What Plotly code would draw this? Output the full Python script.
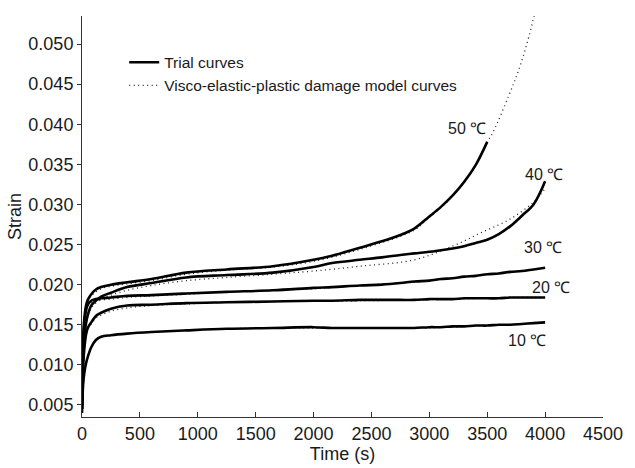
import plotly.graph_objects as go

# ---------------- data ----------------
trial_time = [0, 5, 10, 20, 35, 50, 80, 120, 165, 250, 390, 600, 900, 1250, 1650,
              2000, 2160, 2400, 2590, 2750, 2870, 3000, 3100, 3200, 3300, 3400, 3500,
              3600, 3700, 3800, 3900, 4000]

trial_10 = [0.0040, 0.0062, 0.0076, 0.0090, 0.0102, 0.0110, 0.0122, 0.0131, 0.0135, 0.0137, 0.0139,
            0.0141, 0.0143, 0.0145, 0.0146, 0.0147, 0.0146, 0.0146, 0.0146, 0.0146, 0.0146,
            0.0147, 0.0147, 0.0148, 0.0148, 0.0149, 0.0149, 0.0150, 0.0150, 0.0151, 0.0152, 0.0153]
trial_20 = [0.0045, 0.0080, 0.0100, 0.0120, 0.0138, 0.0146, 0.0153, 0.0161, 0.0165, 0.0170, 0.0174,
            0.0175, 0.0177, 0.0178, 0.0179, 0.0180, 0.0180, 0.0181, 0.0181, 0.0181, 0.0181,
            0.0182, 0.0182, 0.0182, 0.0183, 0.0183, 0.0183, 0.0183, 0.0184, 0.0184, 0.0184, 0.0184]
trial_30 = [0.0045, 0.0090, 0.0120, 0.0150, 0.0168, 0.0175, 0.0180, 0.0182, 0.0183, 0.0184, 0.0186,
            0.0187, 0.0189, 0.0191, 0.0193, 0.0196, 0.0197, 0.0199, 0.0200, 0.0202, 0.0204,
            0.0205, 0.0207, 0.0208, 0.0210, 0.0211, 0.0213, 0.0214, 0.0216, 0.0217, 0.0219, 0.0221]
trial_40 = [0.0045, 0.0085, 0.0110, 0.0135, 0.0152, 0.0162, 0.0174, 0.0180, 0.0185, 0.0190, 0.0197,
            0.0202, 0.0209, 0.0212, 0.0215, 0.0222, 0.0227, 0.0231, 0.0234, 0.0237, 0.0239,
            0.0241, 0.0243, 0.0245, 0.0248, 0.0252, 0.0256, 0.0263, 0.0273, 0.0286, 0.0300, 0.0329]
trial_50 = [0.0050, 0.0100, 0.0135, 0.0158, 0.0174, 0.0181, 0.0188, 0.0194, 0.0197, 0.0200, 0.0203,
            0.0207, 0.0215, 0.0219, 0.0223, 0.0231, 0.0236, 0.0246, 0.0254, 0.0262, 0.0270,
            0.0285, 0.0297, 0.0311, 0.0328, 0.0349, 0.0378, None, None, None, None, None]

model_time = [0, 5, 10, 20, 35, 50, 80, 120, 165, 250, 390, 600, 900, 1250, 1650,
              2000, 2400, 2870, 3200, 3450, 3700, 3900, 4000]
model_10 = [0.0040, 0.0062, 0.0076, 0.0090, 0.0102, 0.0110, 0.0121, 0.0130, 0.0134, 0.0137, 0.0139,
            0.0141, 0.0143, 0.0145, 0.0146, 0.0146, 0.0146, 0.0146, 0.0147, 0.0149, 0.0150, 0.0152, 0.0153]
model_20 = [0.0045, 0.0080, 0.0100, 0.0120, 0.0136, 0.0144, 0.0151, 0.0158, 0.0162, 0.0167, 0.0171,
            0.0174, 0.0176, 0.0178, 0.0179, 0.0180, 0.0180, 0.0181, 0.0182, 0.0183, 0.0184, 0.0184, 0.0184]
model_30 = [0.0045, 0.0090, 0.0120, 0.0150, 0.0166, 0.0173, 0.0178, 0.0180, 0.0181, 0.0182, 0.0184,
            0.0186, 0.0188, 0.0191, 0.0193, 0.0195, 0.0199, 0.0203, 0.0208, 0.0212, 0.0216, 0.0219, 0.0221]
model_40 = [0.0045, 0.0085, 0.0110, 0.0135, 0.0150, 0.0160, 0.0171, 0.0177, 0.0182, 0.0187, 0.0193,
            0.0199, 0.0205, 0.0209, 0.0213, 0.0217, 0.0223, 0.0231, 0.0248, 0.0265, 0.0282, 0.0303, 0.0320]
model_50_time = [0, 5, 10, 20, 35, 50, 80, 120, 165, 250, 390, 600, 900, 1250, 1650,
                 2000, 2400, 2870, 3000, 3200, 3400, 3500, 3550, 3690, 3775, 3846, 3905]
model_50 = [0.0050, 0.0100, 0.0135, 0.0158, 0.0172, 0.0179, 0.0186, 0.0191, 0.0195, 0.0198, 0.0201,
            0.0205, 0.0213, 0.0218, 0.0222, 0.0229, 0.0244, 0.0268, 0.0284, 0.0310, 0.0348, 0.0378,
            0.0390, 0.0437, 0.0469, 0.0502, 0.0535]

temp_labels = ["50 ℃", "40 ℃", "30 ℃", "20 ℃", "10 ℃"]
label_time = [3325, 3990, 3985, 4055, 3840]
label_strain = [0.0395, 0.0337, 0.0246, 0.0197, 0.0131]

x_ticks = [0, 500, 1000, 1500, 2000, 2500, 3000, 3500, 4000, 4500]
y_ticks = [0.005, 0.010, 0.015, 0.020, 0.025, 0.030, 0.035, 0.040, 0.045, 0.050]

# ---------------- figure ----------------
fig = go.Figure()
INK = "#1a1a1a"
DOT = dict(color="#222222", width=1.3, dash="1px,3.5px", shape="spline")
SOLID = dict(color="#000000", width=2.6, shape="spline")

models = [(model_50_time, model_50), (model_time, model_40), (model_time, model_30),
          (model_time, model_20), (model_time, model_10)]
for i, (t, s) in enumerate(models):
    fig.add_trace(go.Scatter(x=t, y=s, mode="lines", line=DOT,
                             name="Visco-elastic-plastic damage model curves",
                             legendgroup="model", legendrank=2, showlegend=(i == 0)))

trials = [trial_50, trial_40, trial_30, trial_20, trial_10]
for i, s in enumerate(trials):
    fig.add_trace(go.Scatter(x=trial_time, y=s, mode="lines", line=SOLID,
                             name="Trial curves", connectgaps=False,
                             legendgroup="trial", legendrank=1, showlegend=(i == 0)))

for txt, t, s in zip(temp_labels, label_time, label_strain):
    fig.add_annotation(x=t, y=s, xref="x", yref="y", text=txt, showarrow=False,
                       font=dict(size=16, color=INK), xanchor="center", yanchor="middle")

fig.update_layout(
    width=635, height=468,
    margin=dict(l=82, r=23, t=16, b=43),
    paper_bgcolor="white", plot_bgcolor="white",
    font=dict(family="Liberation Sans, Arial, sans-serif", size=18, color=INK),
    showlegend=True,
    legend=dict(x=0.081, y=0.926, xanchor="left", yanchor="top",
                bgcolor="rgba(0,0,0,0)", borderwidth=0,
                font=dict(size=15.5, color=INK), tracegroupgap=4,
                traceorder="normal"),
)
fig.update_xaxes(range=[0, 4500], tickvals=x_ticks, ticktext=[str(v) for v in x_ticks],
                 showgrid=False, zeroline=False, showline=True, linecolor="#333333", linewidth=1,
                 ticks="inside", ticklen=5, tickcolor="#333333",
                 title=dict(text="Time (s)", standoff=0, font=dict(size=18)))
fig.update_yaxes(range=[0.0035, 0.0535], tickvals=y_ticks, ticktext=[f"{v:.3f}" for v in y_ticks],
                 showgrid=False, zeroline=False, showline=True, linecolor="#333333", linewidth=1,
                 ticks="outside", ticklen=4, tickcolor="#333333",
                 title=dict(text="Strain", standoff=2, font=dict(size=18)))

fig.write_html("out.html")
